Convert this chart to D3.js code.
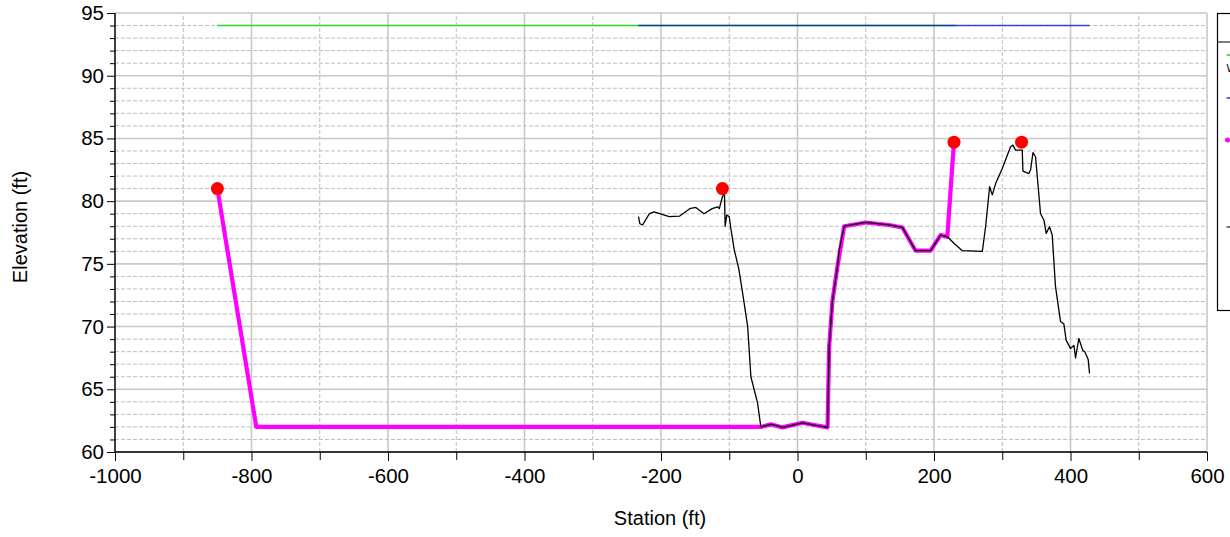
<!DOCTYPE html>
<html>
<head>
<meta charset="utf-8">
<script src="https://cdn.jsdelivr.net/npm/d3@7"></script>
<style>
  html, body { margin: 0; padding: 0; background: #fff; overflow: hidden; }
  svg { display: block; font-family: "Liberation Sans", Arial, sans-serif; }
</style>
</head>
<body>
<svg id="chart" width="1230" height="537"></svg>
<script>
// Ground profile (station ft, elevation ft)
const groundSta = [-233, -231, -227, -217, -210, -188, -173, -158, -149, -137, -125, -117, -114.6, -110, -107, -106, -103.6, -100, -97.6, -92.6, -86, -80.5, -73, -68.3, -58.5, -53.7, -39, -30, -22, -10, 7.3, 24.4, 44, 46.4, 51.3, 58.6, 61.1, 68.4, 100, 134, 153.7, 173, 195, 209.7, 219.5, 230, 241.5, 270.8, 275.6, 281.5, 285.4, 290.3, 300, 312.2, 315.6, 319.5, 329.3, 330.3, 339, 341.5, 345, 348.8, 356.1, 361, 364.4, 369.3, 373.2, 378, 385.4, 390.3, 393.7, 400, 405, 407.4, 412.2, 418, 421, 425.9, 427.9];
const groundElev = [78.76, 78.2, 78.1, 79.0, 79.15, 78.76, 78.8, 79.4, 79.5, 79.0, 79.4, 79.55, 79.4, 80.35, 80.6, 78.0, 78.9, 78.76, 77.8, 76.1, 74.6, 72.7, 70.0, 66.0, 63.9, 62.0, 62.2, 62.1, 61.96, 62.1, 62.33, 62.15, 61.96, 68.4, 72.1, 74.8, 76.1, 78.0, 78.3, 78.1, 77.9, 76.05, 76.05, 77.3, 77.16, 76.6, 76.05, 76.0, 77.96, 81.15, 80.5, 81.4, 82.6, 84.34, 84.47, 84.07, 84.07, 82.4, 82.2, 82.5, 83.86, 83.54, 79.0, 78.5, 77.43, 77.96, 77.3, 73.2, 70.4, 70.2, 68.9, 68.26, 68.5, 67.5, 69.05, 68.1, 67.99, 67.38, 66.27];

// Proposed section (magenta)
const sectionSta = [-850, -793, -53.7, -39, -22, 7.3, 24.4, 44, 46.4, 51.3, 58.6, 68.4, 100, 134, 153.7, 173, 195, 209.7, 219.5, 229.3];
const sectionElev = [81, 62, 62, 62.2, 61.96, 62.33, 62.15, 61.96, 68.4, 72.1, 74.8, 78.0, 78.3, 78.1, 77.9, 76.05, 76.05, 77.3, 77.16, 84.7];

// Bank stations (red points)
const bankSta = [-850, -110, 229.3, 328.3];
const bankElev = [81, 81, 84.7, 84.7];

// Water surfaces
const egSta = [-850, 232];
const egElev = [94, 94];
const wsSta = [-233, 428];
const wsElev = [94, 94];

// Axis ticks
const xTickLabels = [-1000, -800, -600, -400, -200, 0, 200, 400, 600];
const yTickLabels = [60, 65, 70, 75, 80, 85, 90, 95];

const svg = d3.select("#chart");
const x = d3.scaleLinear().domain([-1000, 600]).range([115, 1207]);
const y = d3.scaleLinear().domain([60, 95]).range([452, 13]);

const xMinor = d3.range(-1000, 601, 100);
const yMinor = d3.range(60, 96, 1);

// Grid: dashed minor lines first, solid major lines on top
const grid = svg.append("g");
grid.selectAll("line.hmin").data(yMinor.filter(v => v % 5 !== 0)).join("line")
  .attr("x1", x(-1000)).attr("x2", x(600))
  .attr("y1", d => y(d)).attr("y2", d => y(d))
  .attr("stroke", "#bdbdbd").attr("stroke-width", 1).attr("stroke-dasharray", "4,2");
grid.selectAll("line.vmin").data(xMinor.filter(v => v % 200 !== 0)).join("line")
  .attr("x1", d => x(d)).attr("x2", d => x(d))
  .attr("y1", y(60)).attr("y2", y(95))
  .attr("stroke", "#bdbdbd").attr("stroke-width", 1).attr("stroke-dasharray", "4,2");
grid.selectAll("line.hmaj").data(yTickLabels).join("line")
  .attr("x1", x(-1000)).attr("x2", x(600))
  .attr("y1", d => y(d)).attr("y2", d => y(d))
  .attr("stroke", "#c8c8c8").attr("stroke-width", 1.6);
grid.selectAll("line.vmaj").data(xTickLabels).join("line")
  .attr("x1", d => x(d)).attr("x2", d => x(d))
  .attr("y1", y(60)).attr("y2", y(95))
  .attr("stroke", "#c8c8c8").attr("stroke-width", 1.6);

const line = d3.line().x(d => x(d[0])).y(d => y(d[1]));
const zip = (a, b) => a.map((v, i) => [v, b[i]]);

// Water surface lines
svg.append("path").datum(zip(egSta, egElev)).attr("d", line)
  .attr("fill", "none").attr("stroke", "#22dd22").attr("stroke-width", 1.4);
svg.append("path").datum(zip(wsSta, wsElev)).attr("d", line)
  .attr("fill", "none").attr("stroke", "#0a0ad0").attr("stroke-width", 1.4).attr("stroke-opacity", 0.75);

// Section and ground
svg.append("path").datum(zip(sectionSta, sectionElev)).attr("d", line)
  .attr("fill", "none").attr("stroke", "#ff00ff").attr("stroke-width", 4.2)
  .attr("stroke-linejoin", "round");
svg.append("path").datum(zip(groundSta, groundElev)).attr("d", line)
  .attr("fill", "none").attr("stroke", "#000").attr("stroke-width", 1.3)
  .attr("stroke-linejoin", "round");

svg.selectAll("circle.bank").data(zip(bankSta, bankElev)).join("circle")
  .attr("cx", d => x(d[0])).attr("cy", d => y(d[1])).attr("r", 6.5)
  .attr("fill", "#ff0000");

// Axes
const xAxis = svg.append("g").attr("transform", `translate(0,${y(60)})`)
  .call(d3.axisBottom(x).tickValues(xMinor).tickSize(8)
    .tickFormat(d => xTickLabels.includes(d) ? d : ""));
const yAxis = svg.append("g").attr("transform", `translate(${x(-1000)},0)`)
  .call(d3.axisLeft(y).tickValues(yMinor).tickSize(5)
    .tickFormat(d => yTickLabels.includes(d) ? d : ""));
yAxis.selectAll(".tick").filter(d => yTickLabels.includes(d)).select("line").attr("x2", -8);
xAxis.selectAll(".tick").filter(d => xTickLabels.includes(d)).select("line").attr("y2", 9);
[xAxis, yAxis].forEach(g => {
  g.select(".domain").attr("stroke", "#000").attr("stroke-width", 1.4);
  g.selectAll(".tick line").attr("stroke", "#000").attr("stroke-width", 1);
  g.selectAll(".tick text").attr("font-size", 20.5).attr("fill", "#000")
    .attr("font-family", "'Liberation Sans', Arial, sans-serif");
});
xAxis.select(".domain").attr("d", `M${x(-1000)},0H${x(600)}`);
yAxis.select(".domain").attr("d", `M0,${y(60)}V${y(95)}`);
xAxis.selectAll(".tick text").attr("dy", "1.05em").attr("y", 9);
yAxis.selectAll(".tick text").attr("x", -11);

// Axis titles
svg.append("text").attr("x", 660).attr("y", 525).attr("text-anchor", "middle")
  .attr("font-size", 20).text("Station (ft)");
svg.append("text").attr("transform", "translate(27,227) rotate(-90)")
  .attr("text-anchor", "middle").attr("font-size", 20).text("Elevation (ft)");

// Legend box (mostly beyond the right edge of the page)
const lg = svg.append("g");
lg.append("rect").attr("x", 1217.5).attr("y", 13.5).attr("width", 40).attr("height", 297)
  .attr("fill", "#fff").attr("stroke", "#000").attr("stroke-width", 1.2);
lg.append("line").attr("x1", 1217.5).attr("x2", 1260).attr("y1", 42).attr("y2", 42)
  .attr("stroke", "#000").attr("stroke-width", 1.2);
const legendColors = ["#22dd22", "#4040ff", "#ff00ff", "#555"];
const legendRows = [55, 98, 140, 227];
legendRows.forEach((ry, i) => {
  lg.append("line").attr("x1", 1226.5).attr("x2", 1231).attr("y1", ry).attr("y2", ry)
    .attr("stroke", legendColors[i]).attr("stroke-width", 1.6);
});
lg.append("circle").attr("cx", 1227.5).attr("cy", 140).attr("r", 2.5).attr("fill", "#ff00ff");
lg.append("text").attr("x", 1226.5).attr("y", 72).attr("font-size", 11).text("WS");
</script>
</body>
</html>
